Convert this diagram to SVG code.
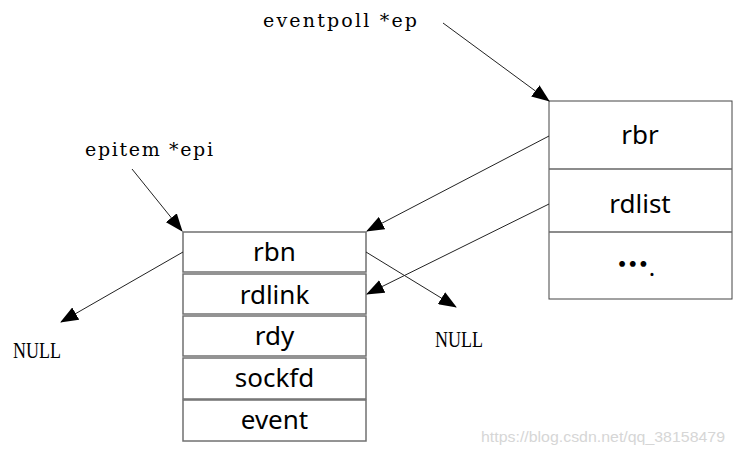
<svg xmlns="http://www.w3.org/2000/svg" width="734" height="455" viewBox="0 0 734 455">
<style>
.box{fill:#fff;stroke:#707070;stroke-width:1.5}
.rbox{fill:#fff;stroke:#444;stroke-width:1}
.lbl{font-family:"Noto Sans","Open Sans",sans-serif;font-size:26px;fill:#000;text-anchor:middle}
.ptr{font-family:"DejaVu Serif","Liberation Serif",serif;font-size:19px;fill:#000}
.null{font-family:"Liberation Serif","DejaVu Serif",serif;font-size:23px;fill:#000}
.conn{stroke:#222;stroke-width:1;fill:none;marker-end:url(#ah)}
</style>
<defs>
<marker id="ah" markerUnits="userSpaceOnUse" markerWidth="18" markerHeight="14" viewBox="0 0 18 14" refX="17" refY="7" orient="auto">
<path d="M0,0 L18,7 L0,14 Z" fill="#000"/>
</marker>
</defs>
<rect width="734" height="455" fill="#fff"/>
<g id="eventpoll">
<rect class="rbox" x="549" y="101" width="183" height="198"/>
<line x1="549" y1="169" x2="732" y2="169" stroke="#666" stroke-width="1.5"/>
<line x1="549" y1="232" x2="732" y2="232" stroke="#666" stroke-width="1.5"/>
<text class="lbl" x="640" y="144">rbr</text>
<text class="lbl" x="640" y="213">rdlist</text>
<text x="636" y="276" style="font-family:'Noto Sans CJK SC','Noto Sans',sans-serif;font-size:32px;font-weight:900;text-anchor:middle">…<tspan font-weight="normal" font-size="24" font-family="Noto Sans">.</tspan></text>
</g>
<g id="epitem">
<rect class="box" x="183" y="232" width="183" height="40"/>
<text class="lbl" x="274.5" y="261">rbn</text>
<rect class="box" x="183" y="274" width="183" height="40"/>
<text class="lbl" x="274.5" y="304">rdlink</text>
<rect class="box" x="183" y="316" width="183" height="40"/>
<text class="lbl" x="274.5" y="345">rdy</text>
<rect class="box" x="183" y="358" width="183" height="41"/>
<text class="lbl" x="274.5" y="387">sockfd</text>
<rect class="box" x="183" y="400" width="183" height="41"/>
<text class="lbl" x="274.5" y="429">event</text>
</g>
<g id="labels">
<text class="ptr" x="263" y="27" textLength="154" lengthAdjust="spacing">eventpoll *ep</text>
<text class="ptr" x="85" y="156" textLength="128" lengthAdjust="spacing">epitem *epi</text>
<text class="null" x="13" y="358" textLength="48" lengthAdjust="spacingAndGlyphs">NULL</text>
<text class="null" x="435" y="347" textLength="48" lengthAdjust="spacingAndGlyphs">NULL</text>
</g>
<g id="connectors">
<line class="conn" x1="443" y1="23" x2="549" y2="101"/>
<line class="conn" x1="132" y1="169" x2="182" y2="231"/>
<line class="conn" x1="549" y1="136" x2="367" y2="231"/>
<line class="conn" x1="549" y1="204" x2="367" y2="294"/>
<line class="conn" x1="183" y1="252" x2="61" y2="322"/>
<line class="conn" x1="366" y1="252" x2="456" y2="307"/>
</g>
<text x="481" y="442" style="font-family:'Liberation Sans',Arial,sans-serif;font-size:15px;fill:#d6d6d6" textLength="244" lengthAdjust="spacingAndGlyphs">https://blog.csdn.net/qq_38158479</text>
</svg>
